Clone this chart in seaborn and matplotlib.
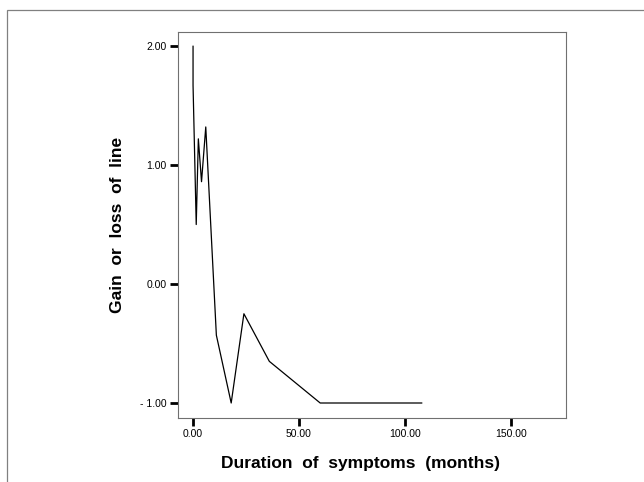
import numpy as np
import pandas as pd
import matplotlib
matplotlib.use("Agg")
import matplotlib.pyplot as plt
from matplotlib.patches import Rectangle
import seaborn as sns

# values
duration = [0, 0, 1.5, 2.5, 4, 6, 11, 18, 24, 36, 60, 108]
gain = [2.0, 1.67, 0.5, 1.22, 0.86, 1.32, -0.43, -1.0, -0.25, -0.65, -1.0, -1.0]
x_ticks = [0, 50, 100, 150]
y_ticks = [-1, 0, 1, 2]

df = pd.DataFrame({"duration": duration, "gain": gain})

sns.set_style("white")
plt.rcParams['font.family'] = ['Liberation Sans', 'DejaVu Sans']
plt.rcParams['text.color'] = 'black'
plt.rcParams['axes.labelcolor'] = 'black'
plt.rcParams['xtick.color'] = 'black'
plt.rcParams['ytick.color'] = 'black'

fig = plt.figure(figsize=(6.44, 4.82), dpi=100)
ax = fig.add_axes([0.2764, 0.1328, 0.6025, 0.8008])

sns.lineplot(data=df, x="duration", y="gain", sort=False, estimator=None,
             color="black", linewidth=0.9, ax=ax)

ax.set_xlim(-7.1, 176)
ax.set_ylim(-1.126, 2.118)
ax.set_xticks(x_ticks)
ax.set_yticks(y_ticks)
ax.set_xticklabels([f"{v:.2f}" for v in x_ticks])
ax.set_yticklabels([f"{v:.2f}".replace("-", "- ") for v in y_ticks])
ax.tick_params(axis="both", direction="out", length=6, width=2, color="black",
               labelsize=7.5, labelcolor="black", pad=2, bottom=True, left=True)
for s in ax.spines.values():
    s.set_color("#707070")
    s.set_linewidth(0.8)

# SPSS-style wide word spacing
ax.set_xlabel("Duration  of  symptoms  (months)", fontsize=12.5, fontweight="bold")
ax.set_ylabel("Gain  or  loss  of  line", fontsize=12.5, fontweight="bold")
ax.xaxis.set_label_coords(0.4716, -0.098)
ax.yaxis.set_label_coords(-0.1366, 0.5)

# outer frame
fig.patches.append(Rectangle((0.0109, -0.1), 1.2, 1.079, transform=fig.transFigure,
                             fill=False, edgecolor="#808080", linewidth=0.9))

fig.savefig("out.png", dpi=100)
